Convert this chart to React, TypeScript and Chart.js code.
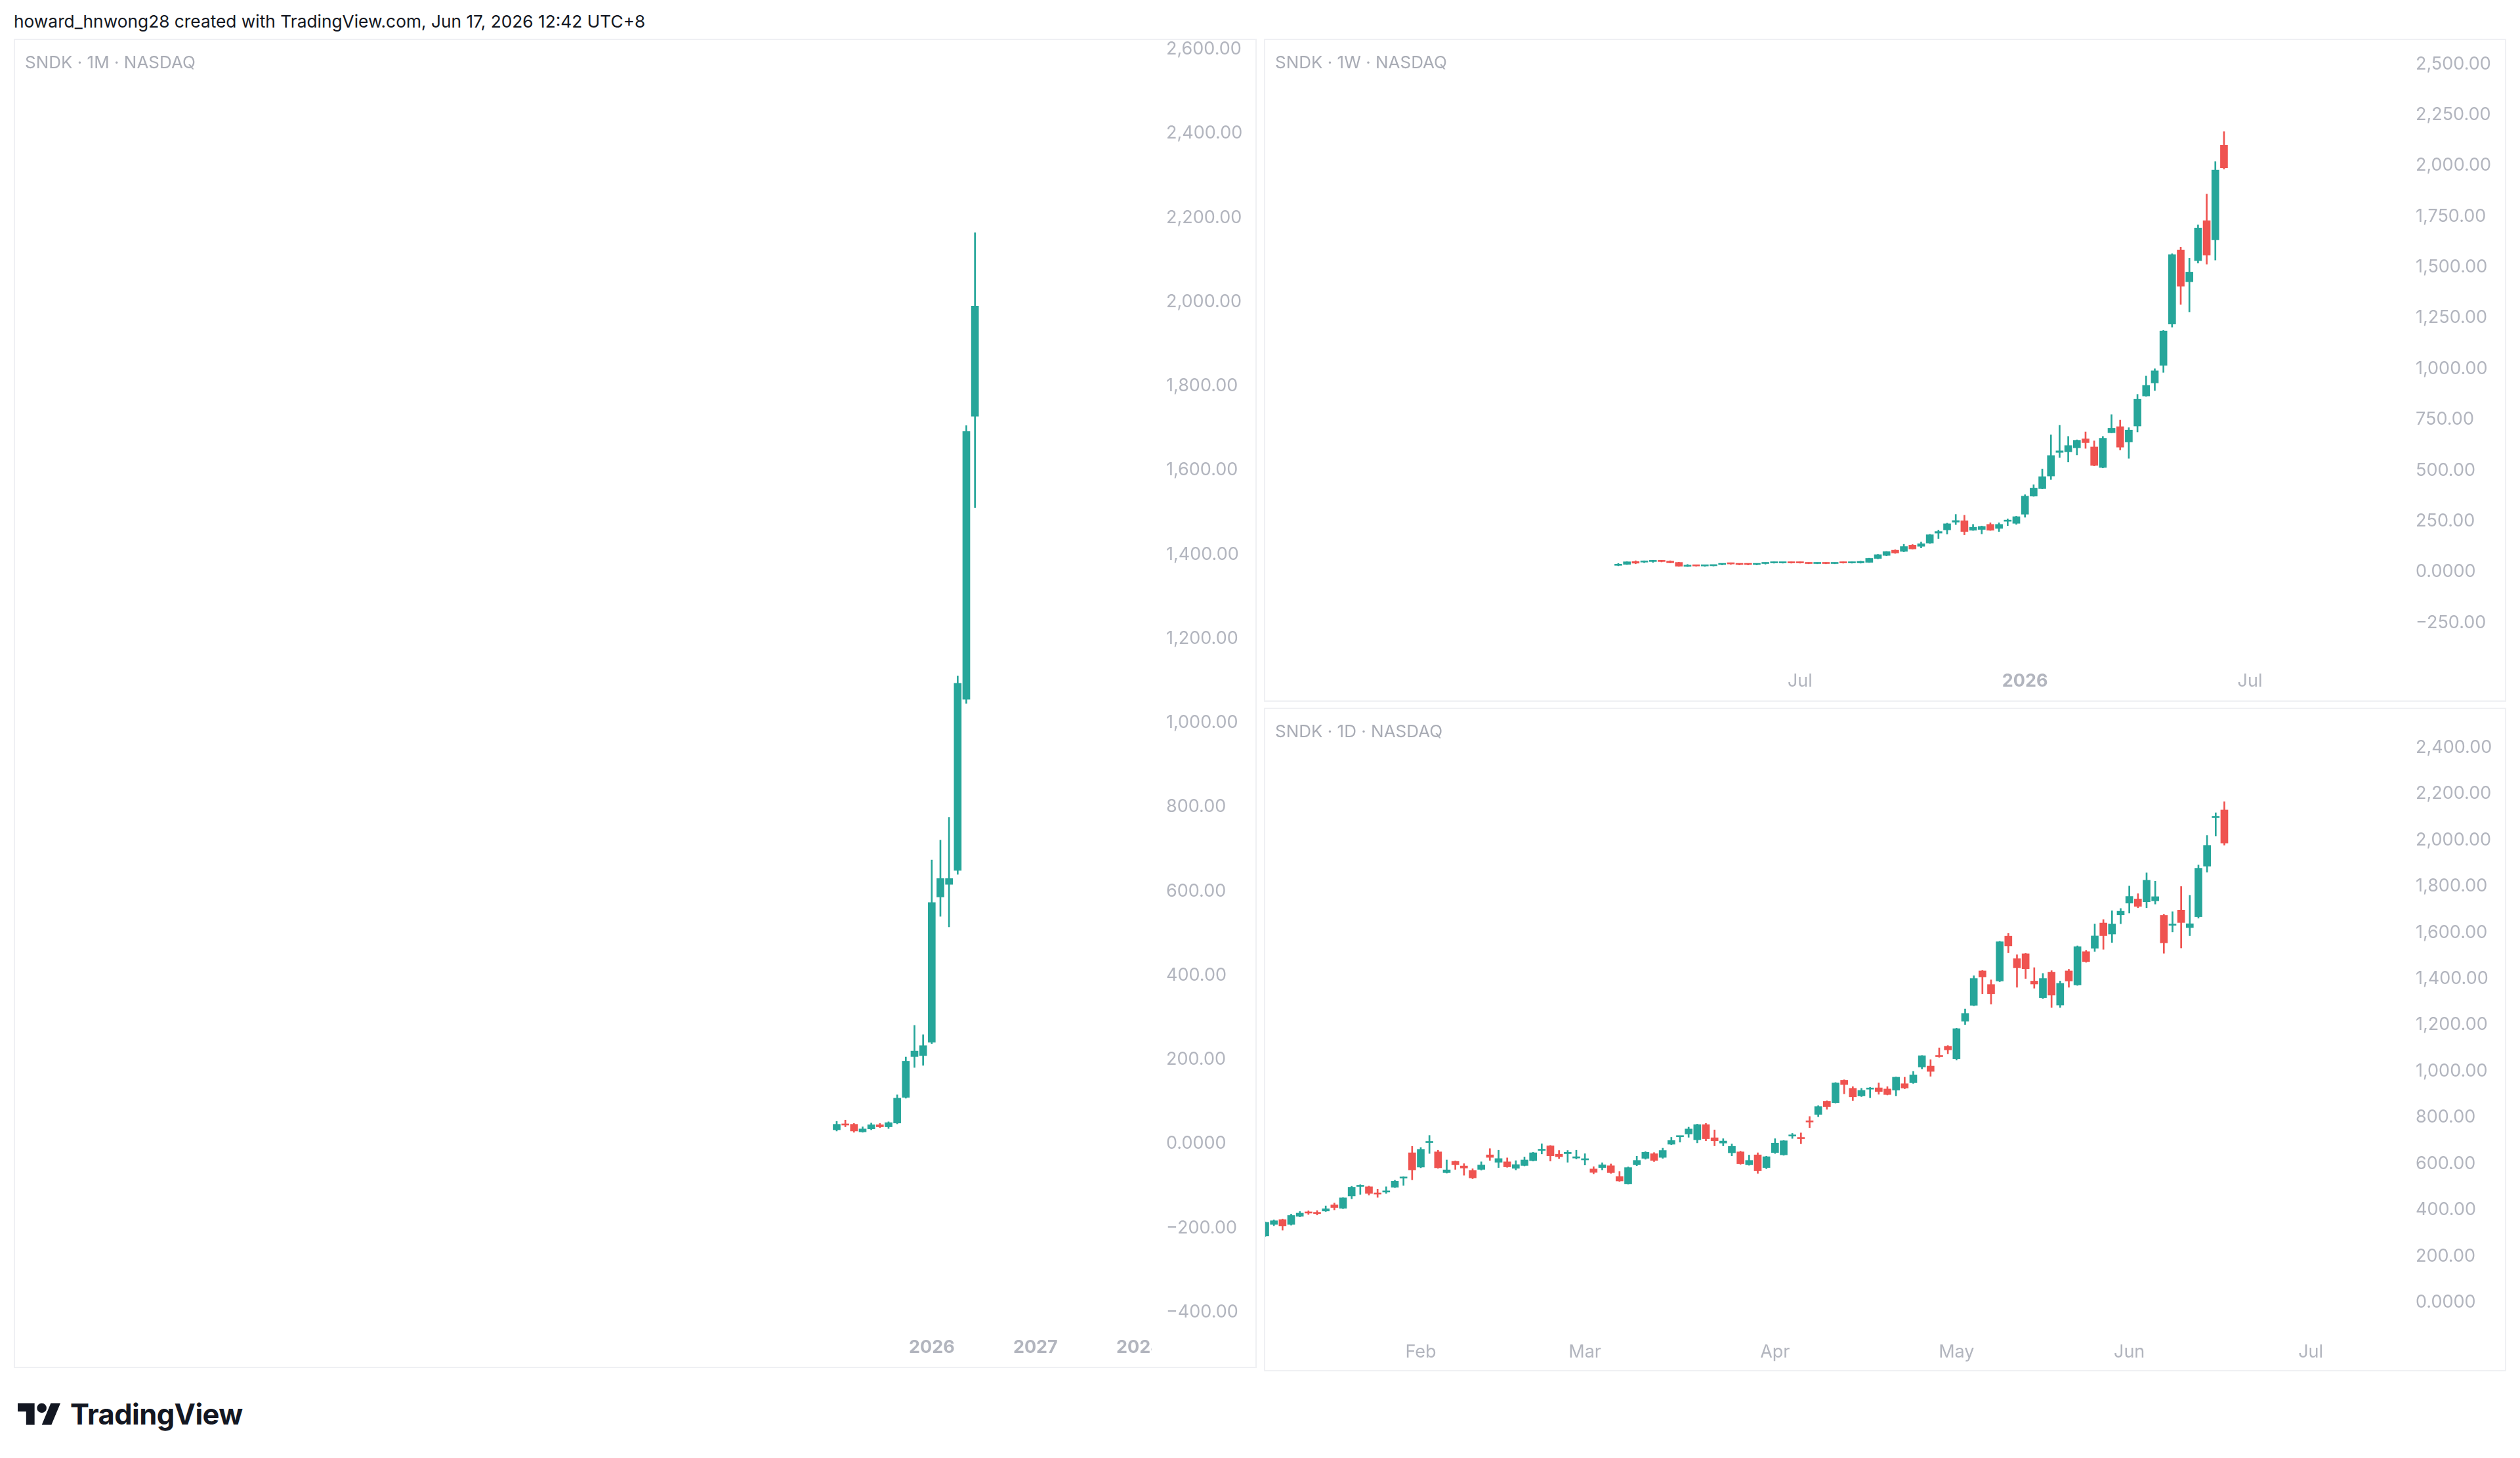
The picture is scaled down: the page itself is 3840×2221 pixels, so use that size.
import React, { useEffect, useRef } from "react";
import { Chart, registerables } from "chart.js";

Chart.register(...registerables);

const UP = "#26a69a";
const DOWN = "#ef5350";
const AXIS = "#b2b5be";
const FONT = "Inter, 'Noto Sans', sans-serif";

// ---------- Monthly (1M): Feb 2025 .. Jun 2026 ----------
const mOpen = [33, 47, 46, 28, 35, 45, 40, 49, 110, 207, 209, 241, 586, 616, 649, 1056, 1728];
const mHigh = [53, 56, 48, 40, 49, 48, 52, 116, 206, 281, 259, 674, 721, 775, 1111, 1706, 2164];
const mLow = [30, 40, 27, 27, 33, 38, 36, 47, 108, 181, 186, 238, 540, 515, 640, 1046, 1511];
const mClose = [46, 44, 30, 35, 45, 40, 50, 108, 196, 220, 233, 573, 630, 630, 1094, 1692, 1990];
const mXTicks = [11, 23, 35];
const mXLabels = ["2026", "2027", "2028"];
const mYTicks = [-400, -200, 0, 200, 400, 600, 800, 1000, 1200, 1400, 1600, 1800, 2000, 2200, 2400, 2600];

// ---------- Weekly (1W): week of Feb 10 2025 .. week of Jun 15 2026 ----------
const wOpen = [32, 37, 51, 48, 51, 55, 53, 47, 27, 33, 29, 30, 36, 43, 39, 39, 36, 41, 44, 44, 47, 47, 44, 41, 44, 41, 47, 44, 44, 47, 66, 81, 107, 101, 132, 126, 142, 191, 207, 245, 252, 205, 209, 234, 214, 249, 239, 284, 373, 410, 472, 588, 591, 611, 655, 615, 514, 685, 715, 640, 718, 866, 930, 1017, 1220, 1584, 1428, 1532, 1729, 1634, 2100];
const wHigh = [42, 50, 55, 55, 58, 58, 55, 48, 37, 35, 34, 35, 40, 45, 41, 41, 40, 46, 49, 48, 49, 49, 46, 46, 46, 46, 49, 49, 53, 68, 86, 101, 109, 136, 135, 147, 185, 206, 240, 283, 279, 234, 226, 242, 242, 261, 274, 380, 429, 507, 675, 722, 667, 650, 689, 645, 667, 774, 747, 710, 874, 964, 1000, 1189, 1566, 1599, 1544, 1708, 1860, 2020, 2167];
const wLow = [30, 36, 40, 45, 47, 49, 44, 27, 26, 28, 27, 29, 34, 37, 34, 34, 34, 38, 43, 43, 43, 43, 40, 40, 40, 40, 43, 43, 43, 46, 64, 79, 91, 99, 112, 118, 140, 164, 186, 233, 183, 204, 187, 204, 199, 228, 234, 269, 372, 409, 455, 563, 541, 576, 608, 522, 512, 684, 600, 559, 689, 864, 893, 982, 1205, 1317, 1280, 1520, 1515, 1535, 1983];
const wClose = [37, 50, 43, 53, 54, 51, 45, 28, 31, 29, 33, 33, 39, 39, 36, 36, 39, 44, 47, 47, 44, 44, 41, 44, 41, 44, 44, 47, 52, 67, 85, 100, 93, 125, 113, 139, 183, 199, 237, 253, 199, 220, 224, 205, 234, 251, 272, 373, 413, 469, 573, 596, 622, 648, 636, 524, 658, 707, 614, 698, 850, 918, 990, 1186, 1562, 1406, 1476, 1693, 1559, 1978, 1989];
const wXTicks = [21, 47, 73];
const wXLabels = ["Jul", "2026", "Jul"];
const wYTicks = [-250, 0, 250, 500, 750, 1000, 1250, 1500, 1750, 2000, 2250, 2500];

// ---------- Daily (1D): Jan 6 2026 .. Jun 16 2026 ----------
const dOpen = [287, 337, 358, 337, 372, 389, 388, 395, 422, 407, 460, 501, 500, 473, 477, 498, 537, 647, 585, 691, 651, 561, 610, 590, 571, 575, 638, 606, 608, 580, 592, 613, 657, 677, 641, 643, 624, 616, 577, 583, 591, 544, 512, 595, 623, 643, 627, 684, 716, 728, 703, 769, 712, 689, 647, 651, 595, 638, 583, 648, 638, 719, 712, 784, 813, 870, 864, 961, 926, 893, 922, 928, 923, 918, 946, 950, 1018, 1022, 1067, 1108, 1054, 1216, 1285, 1434, 1375, 1390, 1584, 1487, 1508, 1390, 1318, 1428, 1286, 1434, 1373, 1517, 1532, 1641, 1593, 1676, 1727, 1745, 1733, 1737, 1674, 1631, 1697, 1621, 1668, 1887, 2097, 2130];
const dHigh = [348, 357, 360, 382, 393, 396, 397, 417, 430, 453, 502, 509, 503, 490, 500, 528, 543, 675, 670, 722, 658, 616, 612, 600, 578, 608, 665, 658, 625, 613, 629, 649, 686, 679, 657, 657, 658, 643, 587, 604, 599, 566, 586, 632, 652, 648, 667, 714, 720, 758, 771, 774, 746, 708, 685, 654, 637, 647, 632, 708, 700, 731, 733, 804, 851, 872, 951, 963, 933, 926, 930, 949, 933, 975, 974, 999, 1068, 1050, 1101, 1111, 1186, 1269, 1413, 1436, 1395, 1562, 1597, 1504, 1510, 1448, 1423, 1435, 1390, 1441, 1542, 1523, 1637, 1656, 1694, 1704, 1801, 1768, 1858, 1822, 1679, 1690, 1799, 1761, 1892, 2020, 2118, 2166];
const dLow = [285, 331, 312, 334, 370, 380, 378, 393, 400, 405, 448, 467, 464, 454, 471, 496, 506, 530, 582, 644, 580, 559, 575, 550, 535, 572, 614, 583, 584, 573, 590, 611, 642, 611, 622, 606, 620, 594, 556, 573, 558, 523, 511, 591, 619, 609, 623, 682, 693, 714, 690, 699, 677, 677, 634, 597, 593, 558, 578, 644, 636, 709, 686, 756, 803, 835, 862, 902, 873, 890, 885, 900, 897, 893, 924, 947, 1010, 978, 1060, 1075, 1048, 1202, 1283, 1335, 1290, 1387, 1512, 1363, 1401, 1359, 1314, 1276, 1276, 1363, 1371, 1471, 1518, 1527, 1557, 1638, 1684, 1707, 1707, 1723, 1510, 1602, 1533, 1586, 1662, 1861, 2017, 1978];
const dClose = [346, 353, 330, 376, 386, 386, 384, 405, 410, 452, 498, 503, 471, 468, 481, 524, 540, 573, 662, 695, 582, 573, 595, 581, 538, 594, 627, 622, 586, 596, 616, 647, 662, 634, 630, 649, 630, 619, 562, 595, 561, 525, 583, 614, 649, 614, 657, 700, 718, 750, 769, 708, 699, 698, 675, 600, 614, 569, 630, 689, 699, 723, 708, 780, 847, 847, 949, 942, 889, 917, 926, 912, 899, 974, 927, 984, 1067, 999, 1063, 1092, 1184, 1250, 1401, 1408, 1335, 1560, 1542, 1447, 1443, 1377, 1401, 1329, 1380, 1390, 1539, 1474, 1585, 1586, 1637, 1692, 1756, 1713, 1826, 1755, 1555, 1637, 1643, 1638, 1878, 1977, 2102, 1987];
const dXTicks = [18, 37, 59, 80, 100, 121];
const dXLabels = ["Feb", "Mar", "Apr", "May", "Jun", "Jul"];
const dYTicks = [0, 200, 400, 600, 800, 1000, 1200, 1400, 1600, 1800, 2000, 2200, 2400];

function fmtPrice(v: number): string {
  if (v === 0) return "0.0000";
  const s = Math.abs(v).toLocaleString("en-US", { minimumFractionDigits: 2, maximumFractionDigits: 2 });
  return v < 0 ? "\u2212" + s : s;
}

// hides the part of the time-axis labels that runs under the price scale
const cornerCover = {
  id: "cornerCover",
  beforeDatasetsDraw(chart: any) {
    const { ctx, chartArea, width, height } = chart;
    ctx.save();
    ctx.fillStyle = "#ffffff";
    const x0 = chartArea.right - 5;
    ctx.fillRect(x0, chartArea.bottom + 1, width - x0, height - chartArea.bottom - 1);
    ctx.restore();
  },
};

type CandleProps = {
  open: number[];
  high: number[];
  low: number[];
  close: number[];
  xMin: number;
  xMax: number;
  yMin: number;
  yMax: number;
  xTicks: number[];
  xLabels: string[];
  yTicks: number[];
  width: number;
  height: number;
  xAxisH: number;
  yAxisW: number;
};

function CandleChart(p: CandleProps) {
  const ref = useRef<HTMLCanvasElement>(null);
  useEffect(() => {
    if (!ref.current) return;
    const idx = p.open.map((_, i) => i);
    const colors = p.open.map((o, i) => (p.close[i] >= o ? UP : DOWN));
    const chart = new Chart(ref.current, {
      type: "bar",
      data: {
        datasets: [
          {
            label: "body",
            data: idx.map((i) => ({ x: i, y: [p.open[i], p.close[i]] })) as any,
            backgroundColor: colors,
            borderWidth: 0,
            barThickness: 11,
            minBarLength: 2,
            grouped: false,
          } as any,
          {
            label: "wick",
            data: idx.map((i) => ({ x: i, y: [p.low[i], p.high[i]] })) as any,
            backgroundColor: colors,
            borderWidth: 0,
            barThickness: 2,
            minBarLength: 1,
            grouped: false,
          } as any,
        ],
      },
      options: {
        responsive: false,
        animation: false,
        devicePixelRatio: 1,
        layout: { padding: 0 },
        plugins: {
          legend: { display: false },
          tooltip: { enabled: false },
          title: { display: false },
        },
        scales: {
          x: {
            type: "linear",
            position: "bottom",
            min: p.xMin,
            max: p.xMax,
            offset: false,
            grid: { display: false, drawTicks: false },
            border: { display: false },
            afterBuildTicks: (s: any) => {
              s.ticks = p.xTicks.map((v) => ({ value: v }));
            },
            afterFit: (s: any) => {
              s.height = p.xAxisH;
              s.paddingLeft = 0;
              s.paddingRight = 0;
            },
            ticks: {
              autoSkip: false,
              maxRotation: 0,
              minRotation: 0,
              padding: 14,
              color: AXIS,
              font: (ctx: any) => {
                const lbl = ctx && ctx.tick ? String(ctx.tick.label) : "";
                return { family: FONT, size: 27, weight: /^\d{4}$/.test(lbl) ? "bold" : "normal" } as any;
              },
              callback: (v: any) => {
                const k = p.xTicks.indexOf(Number(v));
                return k >= 0 ? p.xLabels[k] : "";
              },
            },
          } as any,
          y: {
            type: "linear",
            position: "right",
            min: p.yMin,
            max: p.yMax,
            grid: { display: false, drawTicks: false },
            border: { display: false },
            afterBuildTicks: (s: any) => {
              s.ticks = p.yTicks.map((v) => ({ value: v }));
            },
            afterFit: (s: any) => {
              s.width = p.yAxisW;
              s.paddingTop = 0;
              s.paddingBottom = 0;
            },
            ticks: {
              padding: 17,
              color: AXIS,
              font: { family: FONT, size: 27 },
              callback: (v: any) => fmtPrice(Number(v)),
            },
          } as any,
        },
      },
      plugins: [cornerCover],
    });
    return () => chart.destroy();
  }, []);
  return <canvas ref={ref} width={p.width} height={p.height} style={{ display: "block", width: p.width, height: p.height }} />;
}

const borderCol = "#eff0f3";

function Panel(props: { left: number; top: number; width: number; height: number; title: string; titleTop: number; children: any }) {
  return (
    <div
      style={{
        position: "absolute",
        left: props.left,
        top: props.top,
        width: props.width,
        height: props.height,
        boxSizing: "border-box",
        border: `2px solid ${borderCol}`,
        background: "#fff",
      }}
    >
      {props.children}
      <div
        style={{
          position: "absolute",
          left: 15,
          top: props.titleTop,
          fontFamily: FONT,
          fontSize: 26,
          lineHeight: "30px",
          color: "#a9acb5",
          whiteSpace: "nowrap",
        }}
      >
        {props.title}
      </div>
    </div>
  );
}

function Logo() {
  return (
    <div style={{ position: "absolute", left: 27, top: 2133, display: "flex", alignItems: "center", height: 42 }}>
      <svg width={66} height={34} viewBox="0 4 36 18" style={{ display: "block" }}>
        <path d="M14 22H7V11H0V4h14v18z" fill="#131722" />
        <circle cx="20" cy="8" r="4" fill="#131722" />
        <path d="M28 22h-8l7.5-18h8L28 22z" fill="#131722" />
      </svg>
      <span
        style={{
          marginLeft: 14,
          fontFamily: FONT,
          fontWeight: 700,
          fontSize: 43.5,
          letterSpacing: -0.6,
          color: "#131722",
          lineHeight: "42px",
        }}
      >
        TradingView
      </span>
    </div>
  );
}

export default function App() {
  return (
    <div style={{ position: "fixed", left: 0, top: 0, width: 3840, height: 2221, background: "#ffffff", overflow: "hidden" }}>
      <div
        style={{
          position: "absolute",
          left: 21,
          top: 18,
          fontFamily: FONT,
          fontSize: 26.3,
          lineHeight: "30px",
          color: "#131722",
          whiteSpace: "nowrap",
        }}
      >
        howard_hnwong28 created with TradingView.com, Jun 17, 2026 12:42 UTC+8
      </div>

      <Panel left={21} top={59} width={1894} height={2025} title="SNDK · 1M · NASDAQ" titleTop={19}>
        <CandleChart
          open={mOpen}
          high={mHigh}
          low={mLow}
          close={mClose}
          xMin={-95.06}
          xMax={36.83}
          yMin={-438}
          yMax={2622}
          xTicks={mXTicks}
          xLabels={mXLabels}
          yTicks={mYTicks}
          width={1890}
          height={2021}
          xAxisH={59}
          yAxisW={153}
        />
      </Panel>

      <Panel left={1926} top={59} width={1893} height={1010} title="SNDK · 1W · NASDAQ" titleTop={19}>
        <CandleChart
          open={wOpen}
          high={wHigh}
          low={wLow}
          close={wClose}
          xMin={-40.8}
          xMax={90.86}
          yMin={-442}
          yMax={2618}
          xTicks={wXTicks}
          xLabels={wXLabels}
          yTicks={wYTicks}
          width={1889}
          height={1006}
          xAxisH={59}
          yAxisW={153}
        />
      </Panel>

      <Panel left={1926} top={1078} width={1893} height={1011} title="SNDK · 1D · NASDAQ" titleTop={19}>
        <CandleChart
          open={dOpen}
          high={dHigh}
          low={dLow}
          close={dClose}
          xMin={0}
          xMax={131.85}
          yMin={-131}
          yMax={2567}
          xTicks={dXTicks}
          xLabels={dXLabels}
          yTicks={dYTicks}
          width={1889}
          height={1007}
          xAxisH={57}
          yAxisW={153}
        />
      </Panel>

      <Logo />
    </div>
  );
}
